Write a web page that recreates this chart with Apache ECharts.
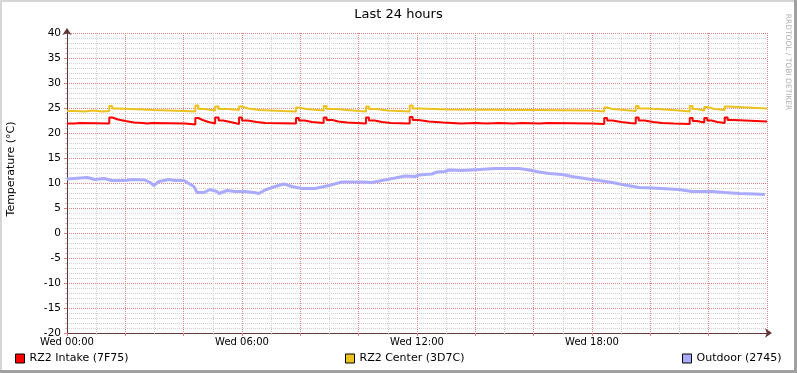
<!DOCTYPE html>
<html>
<head>
<meta charset="utf-8">
<script src="https://cdn.jsdelivr.net/npm/echarts@6/dist/echarts.min.js"></script>
<style>
  html, body { margin: 0; padding: 0; background: #fff; }
  #content { width: 797px; height: 373px; }
</style>
</head>
<body>
<div id="content"></div>
<script>
// values: [hour since Wed 00:00, °C]
var seriesNames = ['RZ2 Intake (7F75)', 'RZ2 Center (3D7C)', 'Outdoor (2745)'];
var timeLabels = ['Wed 00:00', 'Wed 06:00', 'Wed 12:00', 'Wed 18:00'];

var intakeData = [
    [0, 21.9], [0.25, 22.0], [0.45, 21.9], [1.45, 23.1], [1.55, 22.7], [1.75, 22.4], [2.0, 22.1],
    [2.3, 22.0], [2.6, 21.9], [2.75, 22.0], [2.9, 21.9], [4.05, 21.7], [4.4, 23.0], [4.5, 22.6],
    [4.65, 22.2], [4.85, 21.9], [5.08, 23.1], [5.2, 22.5], [5.35, 22.2], [5.6, 22.0], [5.75, 21.8],
    [5.9, 23.1], [6.0, 22.5], [6.2, 22.2], [6.5, 22.0], [6.8, 21.9], [7.85, 23.0], [7.95, 22.5],
    [8.15, 22.2], [8.4, 22.0], [8.8, 23.1], [8.9, 22.6], [9.1, 22.3], [9.3, 22.1], [9.6, 21.9],
    [10.25, 23.1], [10.35, 22.5], [10.55, 22.2], [10.8, 22.0], [11.1, 21.9], [11.75, 23.2],
    [11.85, 22.6], [12.05, 22.3], [12.4, 22.1], [12.9, 21.9], [13.5, 22.0], [14.0, 21.9],
    [14.4, 22.0], [14.8, 21.9], [15.3, 22.0], [15.6, 21.9], [16.2, 22.0], [16.5, 21.9],
    [18.0, 21.8], [18.42, 23.0], [18.52, 22.5], [18.7, 22.2], [19.0, 22.0], [19.3, 21.9],
    [19.5, 23.1], [19.6, 22.5], [19.8, 22.2], [20.1, 22.0], [20.4, 21.9], [20.8, 21.8],
    [21.35, 23.0], [21.45, 22.4], [21.6, 22.1], [21.85, 23.0], [21.95, 22.5], [22.1, 22.2],
    [22.3, 22.0], [22.55, 23.1], [22.65, 22.6], [22.85, 22.3], [24, 22.3]
];

var centerData = [
    [0, 24.4], [0.3, 24.3], [0.6, 24.5], [0.9, 24.3], [1.2, 24.4], [1.45, 25.4], [1.55, 24.9],
    [1.7, 24.7], [2.6, 24.6], [3.0, 24.5], [3.5, 24.4], [4.0, 24.3], [4.4, 25.5], [4.5, 24.8],
    [4.7, 24.5], [5.08, 25.3], [5.2, 24.8], [5.5, 24.6], [5.9, 25.3], [6.0, 24.9], [6.2, 24.6],
    [6.6, 24.5], [7.0, 24.4], [7.4, 24.3], [7.85, 25.1], [7.95, 24.8], [8.2, 24.5], [8.8, 25.4],
    [8.9, 24.8], [9.2, 24.6], [9.6, 24.4], [10.0, 24.3], [10.25, 25.3], [10.35, 24.8],
    [10.6, 24.5], [11.0, 24.4], [11.4, 24.3], [11.75, 25.5], [11.85, 24.9], [12.1, 24.7],
    [13.0, 24.6], [16.0, 24.5], [18.0, 24.3], [18.42, 25.1], [18.52, 24.8], [18.7, 24.6],
    [19.1, 24.4], [19.5, 25.4], [19.6, 24.9], [19.9, 24.7], [20.5, 24.5], [21.0, 24.3],
    [21.35, 25.4], [21.45, 24.8], [21.6, 24.5], [21.85, 25.2], [21.95, 24.8], [22.2, 24.6],
    [22.55, 25.3], [22.65, 24.9], [24, 24.9]
];

var outdoorData = [
    [0.0, 10.8], [0.69, 11.1], [0.96, 10.7], [1.27, 10.9], [1.54, 10.5], [1.99, 10.5],
    [2.23, 10.7], [2.67, 10.6], [2.85, 10.1], [2.98, 9.5], [3.15, 10.3], [3.5, 10.7],
    [3.7, 10.5], [4.01, 10.5], [4.18, 9.9], [4.35, 9.3], [4.46, 8.1], [4.7, 8.1], [4.9, 8.7],
    [5.14, 8.3], [5.21, 7.9], [5.49, 8.5], [5.76, 8.3], [6.07, 8.3], [6.41, 8.1], [6.58, 7.9],
    [6.79, 8.6], [7.13, 9.3], [7.44, 9.8], [7.71, 9.3], [8.06, 8.9], [8.5, 8.9], [8.98, 9.5],
    [9.43, 10.2], [10.11, 10.2], [10.46, 10.1], [10.8, 10.5], [11.25, 11.0], [11.59, 11.4],
    [11.93, 11.3], [12.07, 11.6], [12.51, 11.8], [12.69, 12.2], [12.96, 12.3], [13.1, 12.6],
    [13.54, 12.5], [14.13, 12.7], [14.67, 12.9], [15.5, 12.9], [15.84, 12.6], [16.18, 12.2],
    [16.53, 11.9], [16.97, 11.7], [17.31, 11.3], [17.76, 10.9], [18.24, 10.5], [18.69, 10.1],
    [19.03, 9.7], [19.61, 9.1], [20.06, 9.0], [20.98, 8.7], [21.43, 8.3], [22.11, 8.3],
    [22.56, 8.1], [23.04, 7.9], [23.59, 7.8], [23.93, 7.7]
];

var FONT = 'DejaVu Sans';
var axisCol = '#603838';

function gridLine(color) {
    return { color: color, width: 1, type: [1, 1] };
}

function legendAt(left, name) {
    return {
        left: left, top: 353,
        data: [name],
        icon: 'rect',
        itemWidth: 9, itemHeight: 9, itemGap: 5,
        itemStyle: { borderColor: '#000', borderWidth: 1 },
        textStyle: { fontFamily: FONT, fontSize: 11, color: '#000', padding: [0, 0, 0, 0] },
        selectedMode: false, padding: 0
    };
}

option = {
    backgroundColor: '#fff',
    animation: false,
    title: {
        text: 'Last 24 hours',
        left: 'center',
        top: 3,
        textStyle: { fontFamily: FONT, fontSize: 13, fontWeight: 'normal', color: '#000' }
    },
    grid: { left: 67, right: 30, top: 33, bottom: 40, outerBoundsMode: 'none' },
    legend: [legendAt(15, seriesNames[0]), legendAt(345, seriesNames[1]), legendAt(682, seriesNames[2])],
    xAxis: {
        type: 'value',
        min: 0, max: 24, interval: 2,
        axisLine: {
            show: true, onZero: false,
            symbol: ['none', 'arrow'], symbolSize: [7, 7], symbolOffset: [0, 5],
            lineStyle: { color: axisCol, width: 1 }
        },
        axisTick: { show: true, length: 3, inside: false, lineStyle: { color: '#e08080' } },
        minorTick: { show: true, splitNumber: 2, length: 2, lineStyle: { color: '#c4c4c4' } },
        splitLine: { show: true, lineStyle: gridLine('#e08888') },
        minorSplitLine: { show: true, lineStyle: gridLine('#d0d0d0') },
        axisLabel: {
            margin: 4,
            fontFamily: FONT, fontSize: 10, color: '#000',
            showMaxLabel: false,
            formatter: function (v) {
                return (v % 6 === 0 && v < 24) ? timeLabels[v / 6] : '';
            }
        }
    },
    yAxis: {
        type: 'value',
        min: -20, max: 40, interval: 5,
        axisLine: {
            show: true,
            symbol: ['none', 'arrow'], symbolSize: [7, 7], symbolOffset: [0, 5],
            lineStyle: { color: axisCol, width: 1 }
        },
        axisTick: { show: true, length: 3, lineStyle: { color: '#e08080' } },
        minorTick: { show: true, splitNumber: 5, length: 2, lineStyle: { color: '#c4c4c4' } },
        splitLine: { show: true, lineStyle: gridLine('#e08888') },
        minorSplitLine: { show: true, lineStyle: gridLine('#d0d0d0') },
        axisLabel: { margin: 6, fontFamily: FONT, fontSize: 10.5, color: '#000' }
    },
    graphic: [
        { type: 'rect', shape: { x: 0, y: 0, width: 797, height: 2 }, style: { fill: '#d6d6d6' }, silent: true },
        { type: 'rect', shape: { x: 0, y: 0, width: 2, height: 373 }, style: { fill: '#d6d6d6' }, silent: true },
        { type: 'rect', shape: { x: 0, y: 370, width: 797, height: 3 }, style: { fill: '#a0a0a0' }, silent: true },
        { type: 'rect', shape: { x: 794, y: 0, width: 3, height: 373 }, style: { fill: '#a0a0a0' }, silent: true },
        {
            type: 'text', x: 11, y: 169, rotation: Math.PI / 2,
            style: {
                text: 'Temperature (°C)', fontFamily: FONT, fontSize: 11, fill: '#000',
                textAlign: 'center', textVerticalAlign: 'middle'
            }
        },
        {
            type: 'text', x: 788, y: 62, rotation: -Math.PI / 2,
            style: {
                text: 'RRDTOOL / TOBI OETIKER', fontFamily: FONT, fontSize: 7.5, fill: '#b0b0b0',
                textAlign: 'center', textVerticalAlign: 'middle'
            }
        }
    ],
    series: [
        {
            name: seriesNames[2], type: 'line', data: outdoorData,
            showSymbol: false, color: '#aaaaff',
            lineStyle: { width: 3, color: '#aaaaff' }, z: 3
        },
        {
            name: seriesNames[1], type: 'line', data: centerData, step: 'end',
            showSymbol: false, color: '#ebc21e',
            lineStyle: { width: 2, color: '#ebc21e' }, z: 4
        },
        {
            name: seriesNames[0], type: 'line', data: intakeData, step: 'end',
            showSymbol: false, color: '#ff0000',
            lineStyle: { width: 2, color: '#ff0000' }, z: 5
        }
    ]
};

var myChart = echarts.init(document.getElementById('content'));
myChart.setOption(option);
</script>
</body>
</html>
